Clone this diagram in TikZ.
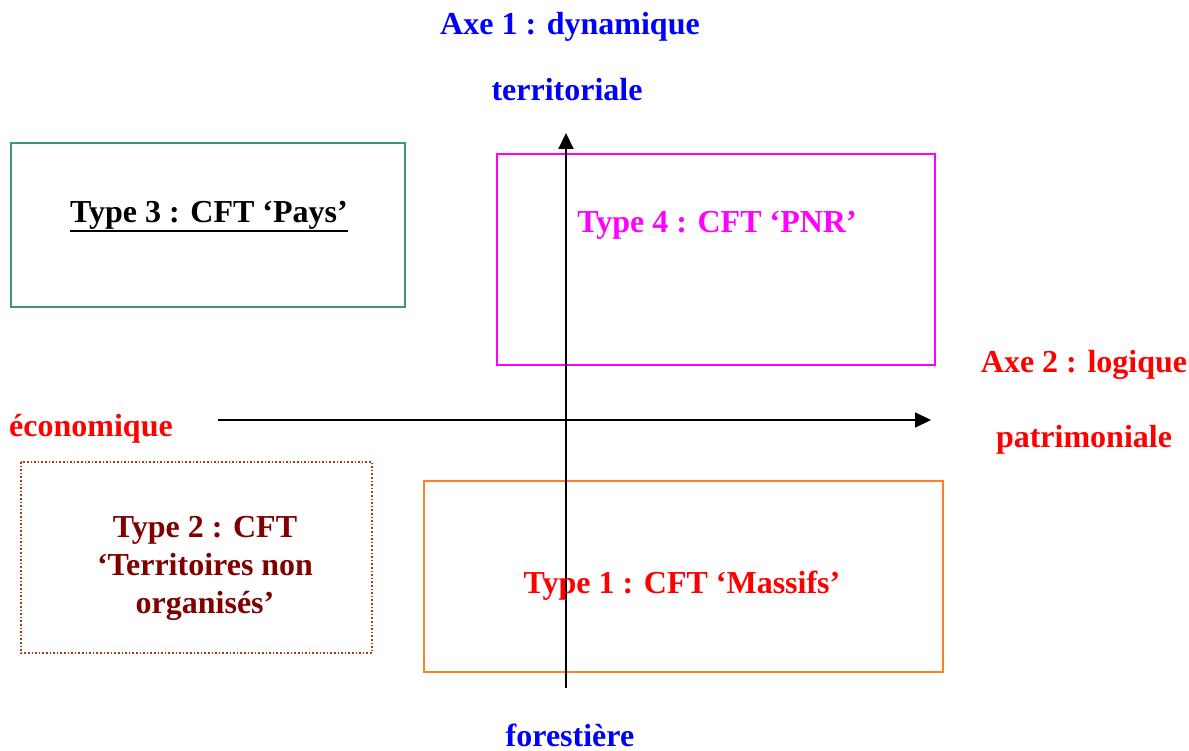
\documentclass[tikz,border=0pt]{standalone}
\usepackage{fontspec}
\setmainfont{Liberation Serif}
\usetikzlibrary{arrows.meta}
\definecolor{boxgreen}{HTML}{3C9A6A}
\definecolor{boxmag}{HTML}{FF00FF}
\definecolor{boxorange}{HTML}{FF7F27}
\definecolor{boxbrown}{HTML}{A0401A}
\definecolor{txtmaroon}{HTML}{800000}
\tikzset{
  lbl/.style={font=\fontsize{32}{38}\selectfont\bfseries, inner sep=0pt, align=center},
  frame/.style={line width=1.6pt},
  axis/.style={line width=2pt, -{Triangle[length=16pt,width=15pt]}}
}
\begin{document}
\begin{tikzpicture}[x=1pt,y=-1pt]
\useasboundingbox (0,0) rectangle (1189,751);
% boxes
\draw[frame, boxgreen] (11,143) rectangle (405,307);
\draw[frame, boxmag] (497,154) rectangle (935,365);
\draw[frame, boxorange] (424,481) rectangle (943,672);
\draw[frame, boxbrown, dotted, line width=1.8pt] (21,462) rectangle (372,653);
% axes
\coordinate (vS) at (566,688);
\coordinate (vE) at (566,133);
\coordinate (hS) at (218,420);
\coordinate (hE) at (931,420);
\draw[axis] (vS) -- (vE);
\draw[axis] (hS) -- (hE);
% labels
\node[lbl, text=blue] (a1a) at (570,27) {Axe 1 : dynamique};
\node[lbl, text=blue] (a1b) at (567,90) {territoriale};
\node[lbl, text=blue] (a1c) at (570,735) {forestière};
\node[lbl, text=red] (a2a) at (1084,365) {Axe 2 : logique};
\node[lbl, text=red] (a2b) at (1084,440) {patrimoniale};
\node[lbl, text=red] (eco) at (91,429) {économique};
\node[lbl] (t3) at (209,215) {Type 3 : CFT ‘Pays’};
\draw[line width=2.5pt] ([yshift=-1.5pt]t3.south west) -- ([yshift=-1.5pt]t3.south east);
\node[lbl, text=boxmag] (t4) at (717,225) {Type 4 : CFT ‘PNR’};
\node[lbl, text=red] (t1) at (682,586) {Type 1 : CFT ‘Massifs’};
\node[lbl, text=txtmaroon] (t2) at (205,568) {Type 2 : CFT\\‘Territoires non\\organisés’};
\end{tikzpicture}
\end{document}
